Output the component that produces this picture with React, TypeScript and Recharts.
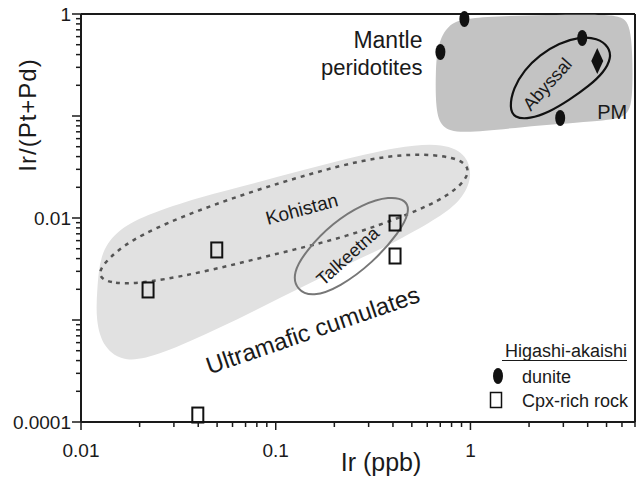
import React from 'react';
import {
  ScatterChart,
  Scatter,
  XAxis,
  YAxis,
  ReferenceDot,
  ReferenceLine,
  Legend,
} from 'recharts';

const FONT = '"Liberation Sans", Arial, Helvetica, sans-serif';
const INK = '#1a1a1a';

// log axes
const xDomain = [0.01, 7];
const yDomain = [0.0001, 1];
const xTicks = [
  0.01, 0.02, 0.03, 0.04, 0.05, 0.06, 0.07, 0.08, 0.09,
  0.1, 0.2, 0.3, 0.4, 0.5, 0.6, 0.7, 0.8, 0.9,
  1, 2, 3, 4, 5, 6, 7,
];
const xMajor = [0.01, 0.1, 1];
const xLabels = ['0.01', '0.1', '1'];

const yTicks = [
  0.0001, 0.0002, 0.0003, 0.0004, 0.0005, 0.0006, 0.0007, 0.0008, 0.0009,
  0.001, 0.002, 0.003, 0.004, 0.005, 0.006, 0.007, 0.008, 0.009,
  0.01, 0.02, 0.03, 0.04, 0.05, 0.06, 0.07, 0.08, 0.09,
  0.1, 0.2, 0.3, 0.4, 0.5, 0.6, 0.7, 0.8, 0.9,
  1,
];
const yMajor = [0.0001, 0.001, 0.01, 0.1, 1];
const yLabels = ['0.0001', '', '0.01', '', '1'];

// fields (outlines)
const ultramaficField = [
  { x: 0.0121, y: 0.00197 }, { x: 0.0125, y: 0.00434 }, { x: 0.0149, y: 0.00729 },
  { x: 0.0213, y: 0.0107 }, { x: 0.0407, y: 0.0161 }, { x: 0.0828, y: 0.0226 },
  { x: 0.189, y: 0.0346 }, { x: 0.433, y: 0.0508 }, { x: 0.736, y: 0.0544 },
  { x: 0.965, y: 0.0415 }, { x: 1.024, y: 0.0247 }, { x: 0.9, y: 0.015 },
  { x: 0.693, y: 0.0102 }, { x: 0.433, y: 0.00608 }, { x: 0.213, y: 0.00323 },
  { x: 0.105, y: 0.00164 }, { x: 0.0516, y: 0.000835 }, { x: 0.0254, y: 0.000454 },
  { x: 0.0168, y: 0.000379 }, { x: 0.013, y: 0.000531 }, { x: 0.0119, y: 0.001 },
];

const mantleField = [
  { x: 0.678, y: 0.497 }, { x: 0.762, y: 0.798 }, { x: 0.99, y: 0.956 },
  { x: 4.59, y: 1 }, { x: 6.17, y: 0.956 }, { x: 6.77, y: 0.697 },
  { x: 6.86, y: 0.1435 }, { x: 6.38, y: 0.0956 }, { x: 4.59, y: 0.0893 },
  { x: 1.78, y: 0.078 }, { x: 0.878, y: 0.0666 }, { x: 0.709, y: 0.0762 },
  { x: 0.662, y: 0.1145 }, { x: 0.662, y: 0.282 },
];

const kohistanField = [
  { x: 0.0121, y: 0.00264 }, { x: 0.0146, y: 0.00225 }, { x: 0.0218, y: 0.0023 },
  { x: 0.0475, y: 0.00309 }, { x: 0.1048, y: 0.00454 }, { x: 0.231, y: 0.00651 },
  { x: 0.505, y: 0.0112 }, { x: 0.754, y: 0.0161 }, { x: 0.954, y: 0.0236 },
  { x: 0.989, y: 0.0316 }, { x: 0.847, y: 0.0396 }, { x: 0.505, y: 0.0434 },
  { x: 0.279, y: 0.037 }, { x: 0.155, y: 0.0276 }, { x: 0.071, y: 0.0176 },
  { x: 0.0322, y: 0.0102 }, { x: 0.0178, y: 0.00608 }, { x: 0.013, y: 0.00362 },
];

const talkeetnaField = [
  { x: 0.47, y: 0.015 }, { x: 0.487, y: 0.01145 }, { x: 0.433, y: 0.00729 },
  { x: 0.314, y: 0.00362 }, { x: 0.213, y: 0.0021 }, { x: 0.155, y: 0.00168 },
  { x: 0.128, y: 0.00197 }, { x: 0.122, y: 0.00289 }, { x: 0.144, y: 0.00486 },
  { x: 0.196, y: 0.00893 }, { x: 0.279, y: 0.0137 }, { x: 0.385, y: 0.0164 },
];

const abyssalField = [
  { x: 1.585, y: 0.12 }, { x: 1.66, y: 0.188 }, { x: 1.89, y: 0.282 },
  { x: 2.26, y: 0.396 }, { x: 2.86, y: 0.52 }, { x: 3.62, y: 0.595 },
  { x: 4.48, y: 0.582 }, { x: 5.16, y: 0.475 }, { x: 5.28, y: 0.37 },
  { x: 4.86, y: 0.27 }, { x: 4.07, y: 0.197 }, { x: 3.22, y: 0.1435 },
  { x: 2.54, y: 0.109 }, { x: 2.01, y: 0.0935 }, { x: 1.68, y: 0.0956 },
];

// Higashi-akaishi samples
const dunite = [
  { x: 0.931, y: 0.893 },
  { x: 0.701, y: 0.424 },
  { x: 3.75, y: 0.582 },
  { x: 2.89, y: 0.0956 },
];

const cpxRich = [
  { x: 0.0221, y: 0.00197 },
  { x: 0.0498, y: 0.00486 },
  { x: 0.41, y: 0.00893 },
  { x: 0.41, y: 0.00424 },
  { x: 0.0398, y: 0.000117 },
];

const primitiveMantle = [{ x: 4.48, y: 0.346 }];

// annotations
const notes = [
  { key: 'mantle', text: 'Mantle', x: 0.567, y: 0.464 },
  { key: 'perid', text: 'peridotites', x: 0.567, y: 0.252 },
  { key: 'abyssal', text: 'Abyssal', x: 2.48, y: 0.206 },
  { key: 'pm', text: 'PM', x: 5.35, y: 0.109 },
  { key: 'kohistan', text: 'Kohistan', x: 0.136, y: 0.01225 },
  { key: 'talkeetna', text: 'Talkeetna', x: 0.234, y: 0.00424 },
  { key: 'cumulates', text: 'Ultramafic cumulates', x: 0.155, y: 0.000798 },
];

const noteStyle: Record<string, { size: number; angle: number; anchor: string; center: boolean }> = {
  mantle: { size: 23, angle: 0, anchor: 'end', center: false },
  perid: { size: 22, angle: 0, anchor: 'end', center: false },
  abyssal: { size: 18, angle: -48, anchor: 'middle', center: true },
  pm: { size: 20, angle: 0, anchor: 'middle', center: true },
  kohistan: { size: 19, angle: -15, anchor: 'middle', center: true },
  talkeetna: { size: 18, angle: -42, anchor: 'middle', center: true },
  cumulates: { size: 24, angle: -19, anchor: 'middle', center: true },
};

const near = (a: number, b: number) => Math.abs(a - b) < b * 1e-6;

const XTick = (props: any) => {
  const { x, y, payload } = props;
  const i = xMajor.findIndex((m) => near(payload.value, m));
  return (
    <g>
      <line x1={x} x2={x} y1={y} y2={y + (i >= 0 ? 8 : 5)} stroke={INK} strokeWidth={1.5} />
      {i >= 0 && (
        <text x={x} y={y + 35} textAnchor="middle" fontSize={19} fontFamily={FONT} fill={INK}>
          {xLabels[i]}
        </text>
      )}
    </g>
  );
};

const YTick = (props: any) => {
  const { x, y, payload } = props;
  const i = yMajor.findIndex((m) => near(payload.value, m));
  return (
    <g>
      <line x1={x - (i >= 0 ? 9 : 5)} x2={x} y1={y} y2={y} stroke={INK} strokeWidth={1.5} />
      {i >= 0 && yLabels[i] && (
        <text x={x - 10} y={y + 7} textAnchor="end" fontSize={19} fontFamily={FONT} fill={INK}>
          {yLabels[i]}
        </text>
      )}
    </g>
  );
};

const XTitle = (props: any) => {
  const vb = props.viewBox || { x: 81, y: 422, width: 554, height: 61 };
  return (
    <text x={vb.x + 300} y={vb.y + 49} textAnchor="middle" fontSize={25} fontFamily={FONT} fill={INK}>
      Ir (ppb)
    </text>
  );
};

const YTitle = (props: any) => {
  const vb = props.viewBox || { x: 0, y: 14, width: 81, height: 408 };
  const cx = vb.x + 28;
  const cy = vb.y + 101;
  return (
    <text
      x={cx}
      y={cy}
      dy={8}
      transform={`rotate(-90 ${cx} ${cy})`}
      textAnchor="middle"
      fontSize={24}
      letterSpacing={1}
      fontFamily={FONT}
      fill={INK}
    >
      Ir/(Pt+Pd)
    </text>
  );
};

const hidden = () => <g />;

const duniteShape = (p: any) => <ellipse cx={p.cx} cy={p.cy} rx={5} ry={8} fill="#111" />;

const squareShape = (p: any) => (
  <rect x={p.cx - 5.5} y={p.cy - 7.5} width={11} height={15} fill="none" stroke="#111" strokeWidth={2} />
);

const diamondShape = (p: any) => (
  <polygon
    points={`${p.cx},${p.cy - 13} ${p.cx + 6},${p.cy} ${p.cx},${p.cy + 13} ${p.cx - 6},${p.cy}`}
    fill="#111"
  />
);

const noteShape = (n: (typeof notes)[number]) => (p: any) => {
  const s = noteStyle[n.key];
  return (
    <text
      x={p.cx}
      y={p.cy}
      dy={s.center ? '0.35em' : 0}
      transform={s.angle ? `rotate(${s.angle} ${p.cx} ${p.cy})` : undefined}
      textAnchor={s.anchor as any}
      fontSize={s.size}
      fontFamily={FONT}
      fill={INK}
    >
      {n.text}
    </text>
  );
};

const LegendBox = () => (
  <svg width={160} height={80} style={{ overflow: 'visible' }}>
    <text x={147} y={22} textAnchor="end" fontSize={18} fontFamily={FONT} fill={INK}>
      Higashi-akaishi
    </text>
    <line x1={22} x2={147} y1={25.5} y2={25.5} stroke={INK} strokeWidth={1.2} />
    <ellipse cx={18} cy={41} rx={5} ry={8} fill="#111" />
    <text x={42} y={48} fontSize={18} fontFamily={FONT} fill={INK}>
      dunite
    </text>
    <rect x={10.5} y={57.5} width={11} height={15} fill="none" stroke="#111" strokeWidth={1.5} />
    <text x={42} y={72} fontSize={18} fontFamily={FONT} fill={INK}>
      Cpx-rich rock
    </text>
  </svg>
);

export default function App() {
  return (
    <div style={{ position: 'fixed', left: 0, top: 0, width: 640, height: 483, background: '#fff' }}>
      <ScatterChart width={640} height={483} margin={{ top: 14, right: 4, bottom: 0, left: 0 }}>
        <XAxis
          type="number"
          dataKey="x"
          scale="log"
          domain={xDomain}
          ticks={xTicks}
          interval={0}
          tick={XTick}
          tickLine={false}
          tickSize={0}
          tickMargin={0}
          height={61}
          axisLine={{ stroke: INK, strokeWidth: 2 }}
          label={XTitle}
        />
        <YAxis
          type="number"
          dataKey="y"
          scale="log"
          domain={yDomain}
          ticks={yTicks}
          interval={0}
          tick={YTick}
          tickLine={false}
          tickSize={0}
          tickMargin={0}
          width={81}
          axisLine={{ stroke: INK, strokeWidth: 2 }}
          label={YTitle}
        />
        <YAxis
          yAxisId="frame"
          orientation="right"
          type="number"
          dataKey="y"
          scale="log"
          domain={yDomain}
          tick={false}
          tickLine={false}
          width={1}
          axisLine={{ stroke: INK, strokeWidth: 2 }}
        />
        <Scatter
          data={ultramaficField}
          line={{ fill: '#e1e1e1', stroke: 'none' }}
          lineJointType="basisClosed"
          shape={hidden}
          isAnimationActive={false}
        />
        <Scatter
          data={mantleField}
          line={{ fill: '#c3c3c3', stroke: 'none' }}
          lineJointType="basisClosed"
          shape={hidden}
          isAnimationActive={false}
        />
        <Scatter
          data={kohistanField}
          line={{ fill: 'none', stroke: '#555', strokeWidth: 2.5, strokeDasharray: '4 5' }}
          lineJointType="basisClosed"
          shape={hidden}
          isAnimationActive={false}
        />
        <Scatter
          data={talkeetnaField}
          line={{ fill: 'none', stroke: '#777', strokeWidth: 2 }}
          lineJointType="basisClosed"
          shape={hidden}
          isAnimationActive={false}
        />
        <Scatter
          data={abyssalField}
          line={{ fill: 'none', stroke: '#111', strokeWidth: 2.2 }}
          lineJointType="basisClosed"
          shape={hidden}
          isAnimationActive={false}
        />
        <ReferenceLine y={yDomain[1]} stroke={INK} strokeWidth={2} ifOverflow="visible" />
        <Scatter data={cpxRich} shape={squareShape} isAnimationActive={false} />
        <Scatter data={dunite} shape={duniteShape} isAnimationActive={false} />
        <Scatter
          data={primitiveMantle}
          yAxisId="frame"
          shape={diamondShape}
          isAnimationActive={false}
        />
        {notes.map((n) => (
          <ReferenceDot key={n.key} x={n.x} y={n.y} r={0} shape={noteShape(n)} ifOverflow="visible" />
        ))}
        <Legend
          layout="horizontal"
          verticalAlign="middle"
          align="center"
          content={LegendBox}
          wrapperStyle={{ position: 'absolute', left: 480, top: 335, width: 160, height: 80 }}
        />
      </ScatterChart>
    </div>
  );
}
